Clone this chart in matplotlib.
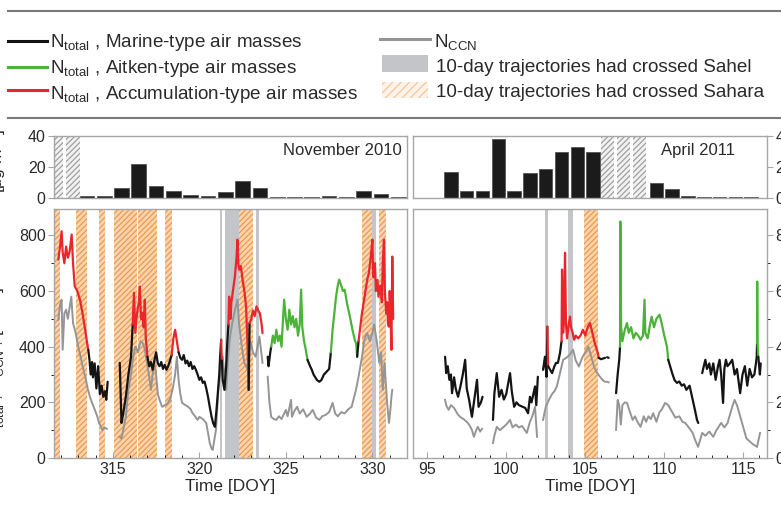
import numpy as np
import matplotlib
matplotlib.use("Agg")
import matplotlib.pyplot as plt
from matplotlib.lines import Line2D
from matplotlib.patches import Rectangle
from matplotlib.ticker import MultipleLocator

plt.rcParams['font.family'] = ['Liberation Sans', 'DejaVu Sans']
plt.rcParams['mathtext.fontset'] = 'custom'
plt.rcParams['mathtext.rm'] = 'Liberation Sans'
plt.rcParams['mathtext.it'] = 'Liberation Sans:italic'
plt.rcParams['mathtext.bf'] = 'Liberation Sans:bold'
plt.rcParams['hatch.linewidth'] = 0.9

# ---------------- daily mass concentration bars ----------------
nov_bar_day = [313, 314, 315, 316, 317, 318, 319, 320, 321, 322, 323, 324, 325, 326, 327, 328, 329, 330, 331]
nov_bar_val = [1.0, 1.0, 6.4, 22.0, 8.0, 4.3, 1.7, 1.0, 3.6, 11.0, 6.2, 0.8, 0.5, 0.5, 1.3, 0.5, 4.5, 2.3, 0.8]
apr_bar_day = [96, 97, 98, 99, 100, 101, 102, 103, 104, 105, 109, 110, 111, 112, 113, 114, 115]
apr_bar_val = [16.7, 4.3, 4.3, 37.9, 4.3, 16.0, 18.6, 30.0, 33.0, 30.0, 9.6, 6.0, 1.5, 0.6, 0.4, 0.4, 0.6]
nov_nodata = [(311.6, 312.14), (312.27, 313.1)]
apr_nodata = [(106.0, 106.8), (107.0, 107.85), (108.0, 108.85)]

# ---------------- trajectory periods ----------------
nov_sahara = [(311.6, 311.95), (312.87, 313.5), (314.2, 314.55), (315.06, 316.4), (316.45, 317.55),
              (318.0, 318.4), (322.3, 323.1), (329.4, 330.0), (330.4, 330.8)]
nov_sahel = [(321.17, 321.32), (321.5, 322.3), (322.75, 323.1), (323.3, 323.42), (330.0, 330.2)]
apr_sahara = [(104.92, 105.8)]
apr_sahel = [(102.48, 102.62), (103.92, 104.2)]

# ---------------- N_total (DOY, cm-3, air-mass type) ----------------
# M = marine, A = Aitken, C = accumulation; None marks a data gap
nov_total = [
    (311.85, 713, 'C'), (311.95, 760, 'C'), (312.04, 815, 'C'), (312.1, 740, 'C'), (312.2, 700, 'C'),
    (312.3, 760, 'C'), (312.4, 720, 'C'), (312.5, 740, 'C'), (312.62, 803, 'C'), (312.7, 700, 'C'),
    (312.8, 617, 'C'), (312.95, 600, 'C'), (313.1, 569, 'C'), (313.25, 520, 'C'), (313.4, 461, 'C'),
    (313.5, 420, 'C'),
    (313.58, 389, 'M'), (313.65, 353, 'M'), (313.72, 300, 'M'), (313.8, 345, 'M'), (313.85, 290, 'M'),
    (313.95, 340, 'M'), (314.05, 250, 'M'), (314.15, 330, 'M'), (314.25, 230, 'M'), (314.35, 260, 'M'),
    (314.45, 220, 'M'), (314.55, 240, 'M'), (314.62, 209, 'M'), (314.7, 274, 'M'),
    (315.0, None, 'M'),
    (315.4, 342, 'M'), (315.5, 126, 'M'), (315.6, 160, 'M'), (315.75, 220, 'M'), (315.9, 300, 'M'),
    (316.05, 364, 'M'),
    (316.15, 480, 'C'), (316.22, 594, 'C'), (316.3, 450, 'C'), (316.4, 520, 'C'), (316.5, 560, 'C'),
    (316.56, 616, 'C'), (316.63, 500, 'C'), (316.7, 522, 'C'), (316.78, 470, 'C'), (316.85, 569, 'C'),
    (316.9, 436, 'C'),
    (317.0, 364, 'M'), (317.1, 330, 'M'), (317.2, 345, 'M'), (317.3, 317, 'M'), (317.4, 350, 'M'),
    (317.5, 380, 'M'), (317.6, 340, 'M'), (317.7, 330, 'M'), (317.8, 345, 'M'), (317.9, 320, 'M'),
    (318.0, 335, 'M'), (318.1, 317, 'M'), (318.2, 330, 'M'), (318.3, 350, 'M'),
    (318.4, 370, 'C'), (318.5, 430, 'C'), (318.6, 461, 'C'), (318.7, 420, 'C'),
    (318.8, 380, 'M'), (318.9, 360, 'M'), (319.0, 353, 'M'), (319.1, 370, 'M'), (319.2, 340, 'M'),
    (319.3, 350, 'M'), (319.4, 330, 'M'), (319.5, 345, 'M'), (319.6, 320, 'M'), (319.7, 330, 'M'),
    (319.8, 317, 'M'), (319.9, 300, 'M'), (320.0, 281, 'M'), (320.1, 290, 'M'), (320.2, 270, 'M'),
    (320.3, 275, 'M'), (320.4, 250, 'M'), (320.5, 220, 'M'), (320.6, 184, 'M'), (320.7, 150, 'M'),
    (320.8, 125, 'M'), (320.9, 112, 'M'), (321.0, 180, 'M'), (321.05, 220, 'M'), (321.15, 300, 'M'),
    (321.2, 364, 'M'),
    (321.26, 425, 'C'),
    (321.3, 350, 'M'), (321.35, 281, 'M'), (321.45, 245, 'M'), (321.55, 330, 'M'), (321.6, 400, 'M'),
    (321.68, 480, 'C'), (321.72, 580, 'C'), (321.8, 500, 'C'), (321.85, 560, 'C'), (321.95, 605, 'C'),
    (322.05, 650, 'C'), (322.15, 720, 'C'), (322.2, 785, 'C'), (322.25, 700, 'C'), (322.3, 677, 'C'),
    (322.4, 690, 'C'), (322.5, 640, 'C'), (322.6, 600, 'C'), (322.7, 545, 'C'), (322.78, 413, 'C'),
    (322.85, 245, 'M'),
    (322.9, 485, 'C'), (323.0, 500, 'C'), (323.1, 530, 'C'), (323.2, 510, 'C'), (323.3, 545, 'C'),
    (323.4, 530, 'C'), (323.5, 520, 'C'), (323.6, 480, 'C'), (323.65, 449, 'C'),
    (323.8, None, 'M'),
    (323.95, 364, 'M'), (324.0, 330, 'M'), (324.1, 380, 'M'),
    (324.15, 400, 'A'), (324.25, 440, 'A'), (324.35, 413, 'A'), (324.45, 461, 'A'), (324.55, 420, 'A'),
    (324.65, 440, 'A'), (324.75, 400, 'A'), (324.8, 460, 'A'), (324.9, 569, 'A'), (325.0, 500, 'A'),
    (325.1, 461, 'A'), (325.2, 533, 'A'), (325.3, 480, 'A'), (325.4, 510, 'A'), (325.5, 470, 'A'),
    (325.6, 500, 'A'), (325.7, 440, 'A'), (325.8, 480, 'A'), (325.88, 605, 'A'), (325.95, 470, 'A'),
    (326.05, 420, 'A'), (326.15, 389, 'A'),
    (326.25, 353, 'M'), (326.4, 330, 'M'), (326.5, 317, 'M'), (326.6, 300, 'M'), (326.7, 290, 'M'),
    (326.8, 280, 'M'), (326.93, 274, 'M'), (327.05, 280, 'M'), (327.2, 300, 'M'), (327.35, 310, 'M'),
    (327.5, 320, 'M'),
    (327.6, 380, 'A'), (327.7, 461, 'A'), (327.8, 520, 'A'), (327.9, 580, 'A'), (328.0, 620, 'A'),
    (328.08, 641, 'A'), (328.2, 620, 'A'), (328.3, 600, 'A'), (328.4, 605, 'A'), (328.55, 550, 'A'),
    (328.7, 508, 'A'), (328.85, 460, 'A'), (329.0, 420, 'A'), (329.06, 413, 'A'),
    (329.12, 364, 'M'),
    (329.2, 420, 'C'), (329.3, 470, 'C'), (329.4, 522, 'C'), (329.5, 560, 'C'), (329.6, 600, 'C'),
    (329.7, 640, 'C'), (329.8, 666, 'C'), (329.9, 720, 'C'), (330.0, 785, 'C'), (330.05, 650, 'C'),
    (330.15, 700, 'C'), (330.2, 600, 'C'), (330.3, 640, 'C'), (330.35, 580, 'C'), (330.45, 620, 'C'),
    (330.55, 560, 'C'), (330.6, 700, 'C'), (330.67, 785, 'C'), (330.72, 600, 'C'), (330.8, 520, 'C'),
    (330.85, 560, 'C'), (330.9, 480, 'C'), (330.96, 472, 'C'), (331.0, 600, 'C'), (331.05, 520, 'C'),
    (331.1, 389, 'C'), (331.15, 724, 'C'), (331.2, 500, 'C'),
]

apr_total = [
    (96.13, 364, 'M'), (96.2, 305, 'M'), (96.3, 330, 'M'), (96.4, 281, 'M'), (96.5, 300, 'M'),
    (96.57, 233, 'M'), (96.7, 290, 'M'), (96.8, 250, 'M'), (96.95, 220, 'M'), (97.1, 257, 'M'),
    (97.25, 300, 'M'), (97.4, 353, 'M'), (97.5, 250, 'M'), (97.65, 209, 'M'), (97.83, 148, 'M'),
    (97.95, 198, 'M'), (98.15, 281, 'M'), (98.25, 184, 'M'), (98.4, 200, 'M'), (98.5, 220, 'M'),
    (98.8, None, 'M'),
    (99.16, 137, 'M'), (99.25, 233, 'M'), (99.4, 305, 'M'), (99.55, 220, 'M'), (99.7, 245, 'M'),
    (99.85, 210, 'M'), (100.0, 230, 'M'), (100.24, 305, 'M'), (100.35, 240, 'M'), (100.5, 184, 'M'),
    (100.65, 200, 'M'), (100.8, 190, 'M'), (101.0, 185, 'M'), (101.2, 180, 'M'), (101.38, 161, 'M'),
    (101.5, 220, 'M'), (101.6, 200, 'M'), (101.82, 257, 'M'), (101.9, 190, 'M'), (102.0, 292, 'M'),
    (102.2, None, 'M'),
    (102.33, 317, 'M'), (102.45, 364, 'M'), (102.55, 292, 'M'),
    (102.6, 472, 'C'),
    (102.65, 330, 'M'), (102.75, 320, 'M'), (102.9, 305, 'M'), (103.05, 330, 'M'), (103.15, 342, 'M'),
    (103.27, 342, 'M'), (103.4, 377, 'M'),
    (103.5, 420, 'C'), (103.53, 677, 'C'), (103.6, 450, 'C'), (103.65, 500, 'C'), (103.72, 738, 'C'),
    (103.78, 480, 'C'), (103.85, 430, 'C'), (103.95, 480, 'C'), (104.04, 508, 'C'), (104.1, 470, 'C'),
    (104.2, 450, 'C'), (104.3, 425, 'C'), (104.4, 440, 'C'), (104.55, 430, 'C'), (104.7, 440, 'C'),
    (104.85, 461, 'C'), (105.0, 440, 'C'), (105.15, 470, 'C'), (105.3, 485, 'C'), (105.45, 450, 'C'),
    (105.6, 413, 'C'), (105.8, 377, 'C'),
    (105.85, 360, 'M'), (106.0, 355, 'M'), (106.25, 360, 'M'),
    (106.3, None, 'M'),
    (106.38, 362, 'M'), (106.48, 360, 'M'),
    (106.6, None, 'M'),
    (106.95, 233, 'M'), (107.05, 300, 'M'), (107.15, 353, 'M'),
    (107.2, 400, 'A'), (107.22, 850, 'A'), (107.27, 472, 'A'), (107.35, 420, 'A'), (107.5, 460, 'A'),
    (107.64, 485, 'A'), (107.75, 450, 'A'), (107.9, 470, 'A'), (108.05, 430, 'A'), (108.2, 450, 'A'),
    (108.35, 440, 'A'), (108.5, 425, 'A'), (108.65, 440, 'A'), (108.75, 569, 'A'), (108.8, 450, 'A'),
    (108.95, 430, 'A'), (109.1, 480, 'A'), (109.2, 508, 'A'), (109.35, 470, 'A'), (109.5, 500, 'A'),
    (109.7, 515, 'A'), (109.85, 480, 'A'), (110.0, 440, 'A'), (110.17, 400, 'A'),
    (110.25, 353, 'M'), (110.5, 305, 'M'), (110.65, 280, 'M'), (110.8, 270, 'M'), (110.95, 275, 'M'),
    (111.1, 260, 'M'), (111.25, 265, 'M'), (111.4, 245, 'M'), (111.6, 260, 'M'), (111.8, 209, 'M'),
    (111.95, 170, 'M'), (112.07, 137, 'M'), (112.15, 126, 'M'),
    (112.3, None, 'M'),
    (112.4, 305, 'M'), (112.5, 330, 'M'), (112.6, 353, 'M'), (112.7, 320, 'M'), (112.85, 340, 'M'),
    (112.95, 300, 'M'), (113.1, 340, 'M'), (113.25, 281, 'M'), (113.4, 330, 'M'), (113.5, 353, 'M'),
    (113.6, 300, 'M'), (113.72, 198, 'M'), (113.8, 320, 'M'), (113.9, 353, 'M'), (114.0, 330, 'M'),
    (114.15, 340, 'M'), (114.3, 353, 'M'), (114.45, 300, 'M'), (114.6, 320, 'M'), (114.8, 233, 'M'),
    (114.95, 300, 'M'), (115.1, 330, 'M'), (115.25, 260, 'M'), (115.4, 320, 'M'), (115.55, 290, 'M'),
    (115.7, 300, 'M'), (115.8, 340, 'M'), (115.85, 364, 'M'),
    (115.87, 413, 'A'), (115.88, 634, 'A'), (115.9, 413, 'A'),
    (115.95, 364, 'M'), (116.05, 300, 'M'), (116.1, 340, 'M'),
]

# ---------------- N_CCN (DOY, cm-3); None marks a data gap ----------------
nov_ccn = [
    (311.85, 497), (311.95, 550), (312.04, 569), (312.1, 389), (312.2, 520), (312.3, 533), (312.4, 500),
    (312.5, 540), (312.6, 580), (312.7, 485), (312.85, 450), (313.0, 400), (313.15, 360), (313.3, 317),
    (313.45, 280), (313.56, 245), (313.7, 215), (313.8, 198), (313.96, 173), (314.1, 150), (314.2, 126),
    (314.3, 115), (314.4, 101), (314.5, 110), (314.65, 105), (315.0, None),
    (315.4, 76), (315.5, 70), (315.6, 100), (315.75, 148), (315.9, 245), (316.05, 300), (316.15, 353),
    (316.3, 400), (316.45, 380), (316.6, 420), (316.73, 413), (316.85, 390), (316.95, 350), (317.1, 292),
    (317.2, 245), (317.3, 300), (317.4, 342), (317.5, 300), (317.6, 230), (317.7, 209), (317.85, 184),
    (318.0, 190), (318.15, 195), (318.3, 210), (318.45, 245), (318.6, 300), (318.7, 364), (318.8, 280),
    (318.9, 230), (319.0, 198), (319.2, 190), (319.35, 184), (319.5, 175), (319.6, 162), (319.75, 150),
    (319.9, 137), (320.0, 148), (320.2, 140), (320.4, 126), (320.5, 90), (320.6, 54), (320.7, 35),
    (320.77, 29), (320.85, 60), (320.96, 101), (321.1, 245), (321.2, 300), (321.35, 364), (321.45, 300),
    (321.55, 245), (321.65, 350), (321.75, 425), (321.9, 485), (322.05, 530), (322.2, 569), (322.3, 480),
    (322.45, 400), (322.6, 342), (322.8, 317), (322.95, 420), (323.1, 380), (323.25, 364), (323.47, 436),
    (323.65, 342), (323.8, None),
    (323.95, 292), (324.05, 200), (324.15, 148), (324.3, 140), (324.45, 137), (324.6, 150), (324.75, 140),
    (324.9, 160), (325.0, 173), (325.1, 150), (325.3, 209), (325.35, 148), (325.5, 170), (325.65, 184),
    (325.8, 160), (326.0, 175), (326.2, 148), (326.4, 160), (326.55, 173), (326.75, 145), (326.93, 137),
    (327.1, 150), (327.3, 155), (327.5, 165), (327.7, 198), (327.85, 160), (328.0, 150), (328.2, 165),
    (328.4, 160), (328.6, 175), (328.8, 184), (329.05, 245), (329.2, 292), (329.4, 364), (329.55, 430),
    (329.7, 449), (329.85, 420), (330.0, 450), (330.1, 480), (330.25, 420), (330.4, 342), (330.5, 380),
    (330.6, 245), (330.7, 342), (330.85, 198), (330.96, 126), (331.05, 180), (331.1, 220), (331.15, 245),
]

apr_ccn = [
    (96.13, 209), (96.2, 190), (96.35, 173), (96.5, 190), (96.7, 180), (96.9, 160), (97.07, 148),
    (97.3, 140), (97.5, 130), (97.65, 120), (97.83, 101), (97.95, 76), (98.1, 100), (98.2, 112),
    (98.35, 95), (98.47, 105), (98.8, None),
    (99.16, 54), (99.25, 80), (99.4, 112), (99.6, 100), (99.8, 110), (100.0, 120), (100.24, 137),
    (100.4, 110), (100.6, 120), (100.8, 110), (101.0, 115), (101.3, 90), (101.5, 130), (101.65, 150),
    (101.82, 184), (101.95, 76), (102.2, None),
    (102.33, 137), (102.5, 184), (102.7, 209), (102.9, 230), (103.05, 240), (103.2, 257), (103.4, 305),
    (103.6, 353), (103.8, 360), (104.0, 370), (104.23, 389), (104.4, 350), (104.6, 329), (104.8, 360),
    (105.0, 380), (105.2, 400), (105.35, 370), (105.55, 329), (105.7, 310), (105.93, 292), (106.1, 280),
    (106.25, 274), (106.3, None), (106.38, 274), (106.48, 272), (106.6, None),
    (106.95, 101), (107.05, 209), (107.15, 190), (107.25, 120), (107.35, 190), (107.5, 200),
    (107.64, 198), (107.8, 170), (108.0, 137), (108.15, 150), (108.3, 130), (108.5, 112), (108.7, 150),
    (108.85, 130), (109.0, 150), (109.15, 140), (109.3, 161), (109.5, 130), (109.7, 165), (109.85, 175),
    (110.05, 198), (110.25, 190), (110.5, 165), (110.7, 145), (110.95, 150), (111.15, 130), (111.33, 126),
    (111.55, 110), (111.8, 90), (111.95, 65), (112.14, 40), (112.4, 90), (112.6, 80), (112.85, 95),
    (113.1, 76), (113.3, 100), (113.6, 126), (113.8, 110), (114.0, 125), (114.3, 184), (114.45, 209),
    (114.6, 190), (114.8, 150), (115.0, 110), (115.2, 70), (115.4, 60), (115.6, 50), (115.87, 40),
    (116.06, 90),
]

MASS_COLORS = {'M': '#141414', 'A': '#4cb23a', 'C': '#e8262b'}
CCN_COLOR = '#959595'
SAHEL_COLOR = '#c3c5c8'
SAHARA_FACE = '#f9d4b0'
SAHARA_HATCH = '#ee9a4c'
SPINE = '#a6a6a6'
TXT = '#2a2a2a'

W, H = 781, 505
fig = plt.figure(figsize=(W / 100, H / 100), dpi=100)


def fbox(x0, y0, x1, y1):
    """Pixel box (top-left origin) to figure-fraction rect."""
    return [x0 / W, 1 - y1 / H, (x1 - x0) / W, (y1 - y0) / H]


ax_b1 = fig.add_axes(fbox(54, 136, 407, 198))
ax_m1 = fig.add_axes(fbox(54, 209, 407, 458))
ax_b2 = fig.add_axes(fbox(413, 136, 767, 198))
ax_m2 = fig.add_axes(fbox(413, 209, 767, 458))


def style(ax):
    for s in ax.spines.values():
        s.set_color(SPINE)
        s.set_linewidth(1.0)
    ax.tick_params(colors=SPINE, labelcolor=TXT, labelsize=11.5)


def draw_total(ax, pts):
    runs, run = [], []
    for p in pts:
        if p[1] is None:
            if run:
                runs.append(run)
            run = []
        else:
            run.append(p)
    if run:
        runs.append(run)
    for run in runs:
        n = len(run)
        start = 0
        while start < n:
            end = start
            while end + 1 < n and run[end + 1][2] == run[start][2]:
                end += 1
            seg = run[start:min(end + 2, n)]
            ax.plot([p[0] for p in seg], [p[1] for p in seg], color=MASS_COLORS[run[start][2]],
                    lw=1.6, solid_joinstyle='round', solid_capstyle='round', zorder=3)
            start = end + 1


def draw_ccn(ax, pts):
    x = [p[0] for p in pts]
    y = [np.nan if p[1] is None else p[1] for p in pts]
    ax.plot(x, y, color=CCN_COLOR, lw=1.4, zorder=2.5)


def draw_spans(ax, sahara, sahel):
    for a, b in sahara:
        ax.axvspan(a, b, facecolor=SAHARA_FACE, edgecolor=SAHARA_HATCH, hatch='//////', lw=0, zorder=0.6)
    for a, b in sahel:
        ax.axvspan(a, b, facecolor=SAHEL_COLOR, edgecolor=SAHEL_COLOR, lw=0, zorder=0.5)


def draw_bars(ax, days, vals, nodata):
    ax.bar([d + 0.5 for d in days], vals, width=0.85, color='#1b1b1b', edgecolor='#555555', lw=0.6, zorder=2)
    for a, b in nodata:
        ax.axvspan(a, b, facecolor='#f2f2f2', edgecolor='#a0a0a0', hatch='//////', lw=0, zorder=1)


# ---- November 2010 ----
draw_bars(ax_b1, nov_bar_day, nov_bar_val, nov_nodata)
draw_spans(ax_m1, nov_sahara, nov_sahel)
draw_ccn(ax_m1, nov_ccn)
draw_total(ax_m1, nov_total)

# ---- April 2011 ----
draw_bars(ax_b2, apr_bar_day, apr_bar_val, apr_nodata)
draw_spans(ax_m2, apr_sahara, apr_sahel)
draw_ccn(ax_m2, apr_ccn)
draw_total(ax_m2, apr_total)

for ax_b, ax_m, lims, ticks in [(ax_b1, ax_m1, (311.6, 332.0), [315, 320, 325, 330]),
                                (ax_b2, ax_m2, (94.1, 116.5), [95, 100, 105, 110, 115])]:
    for ax in (ax_b, ax_m):
        style(ax)
        ax.set_xlim(*lims)
    ax_b.set_ylim(0, 40)
    ax_b.set_yticks([0, 20, 40])
    ax_b.set_xticks([])
    ax_m.set_ylim(0, 895)
    ax_m.set_yticks([0, 200, 400, 600, 800])
    ax_m.yaxis.set_minor_locator(MultipleLocator(100))
    ax_m.set_xticks(ticks)
    ax_m.xaxis.set_minor_locator(MultipleLocator(1))
    ax_m.tick_params(axis='x', which='both', direction='in', top=False)
    ax_m.tick_params(axis='x', which='major', length=4, pad=3)
    ax_m.tick_params(axis='x', which='minor', length=2)
    ax_m.set_xlabel('Time [DOY]', fontsize=12.5, color=TXT, labelpad=1)

for ax in (ax_b1, ax_m1):
    ax.tick_params(axis='y', which='both', direction='out', left=True, right=False)
    ax.tick_params(axis='y', which='major', length=4, pad=2)
    ax.tick_params(axis='y', which='minor', length=2)
for ax in (ax_b2, ax_m2):
    ax.yaxis.tick_right()
    ax.tick_params(axis='y', which='both', direction='out', left=False, right=True)
    ax.tick_params(axis='y', which='major', length=4, pad=2)
    ax.tick_params(axis='y', which='minor', length=2)

ax_b1.text(0.986, 0.77, 'November 2010', transform=ax_b1.transAxes, ha='right', va='center',
           fontsize=12, color=TXT)
ax_b2.text(0.805, 0.77, 'April 2011', transform=ax_b2.transAxes, ha='center', va='center',
           fontsize=12, color=TXT)

ax_m1.set_ylabel(r'N$_{\mathregular{total}}$ , N$_{\mathregular{CCN}}$ , [cm$^{\mathregular{-3}}$]',
                 fontsize=12.5, color=TXT)
ax_m1.yaxis.set_label_coords((7 - 54) / 353, 0.38)
ax_b1.set_ylabel('[μg m$^{\\mathregular{-3}}$]', fontsize=12.5, color=TXT)
ax_b1.yaxis.set_label_coords((8 - 54) / 353, 0.6)

# ---- separators ----
for yy in (10.5, 118):
    fig.add_artist(Line2D([8 / W, 1], [1 - yy / H] * 2, transform=fig.transFigure, color='#7a7a7a', lw=1.5))

# ---- legend ----
LFS = 13.6


def fx(px):
    return px / W


def fy(py):
    return 1 - py / H


col1 = [(MASS_COLORS['M'], r'N$_{\mathregular{total}}$ , Marine-type air masses', 40.5, 47),
        (MASS_COLORS['A'], r'N$_{\mathregular{total}}$ , Aitken-type air masses', 66.5, 73),
        (MASS_COLORS['C'], r'N$_{\mathregular{total}}$ , Accumulation-type air masses', 90.5, 99)]
for color, label, ly, ty in col1:
    fig.add_artist(Line2D([fx(8), fx(47)], [fy(ly)] * 2, transform=fig.transFigure, color=color, lw=2.2))
    fig.text(fx(50), fy(ty), label, fontsize=LFS, color=TXT, va='baseline', ha='left')

fig.add_artist(Line2D([fx(380), fx(430)], [fy(38.5)] * 2, transform=fig.transFigure, color=CCN_COLOR, lw=2.2))
fig.text(fx(434), fy(47), r'N$_{\mathregular{CCN}}$', fontsize=LFS, color=TXT, va='baseline', ha='left')
fig.add_artist(Rectangle((fx(382), fy(72)), fx(428) - fx(382), fy(55) - fy(72), transform=fig.transFigure,
                         facecolor=SAHEL_COLOR, edgecolor='none'))
fig.text(fx(436), fy(72), '10-day trajectories had crossed Sahel', fontsize=LFS, color=TXT,
         va='baseline', ha='left')
fig.add_artist(Rectangle((fx(382), fy(98)), fx(428) - fx(382), fy(82) - fy(98), transform=fig.transFigure,
                         facecolor='#fdf3e8', edgecolor='#f3c79c', hatch='////', lw=0))
fig.text(fx(436), fy(97), '10-day trajectories had crossed Sahara', fontsize=LFS, color=TXT,
         va='baseline', ha='left')

fig.savefig('out.png', dpi=100)
